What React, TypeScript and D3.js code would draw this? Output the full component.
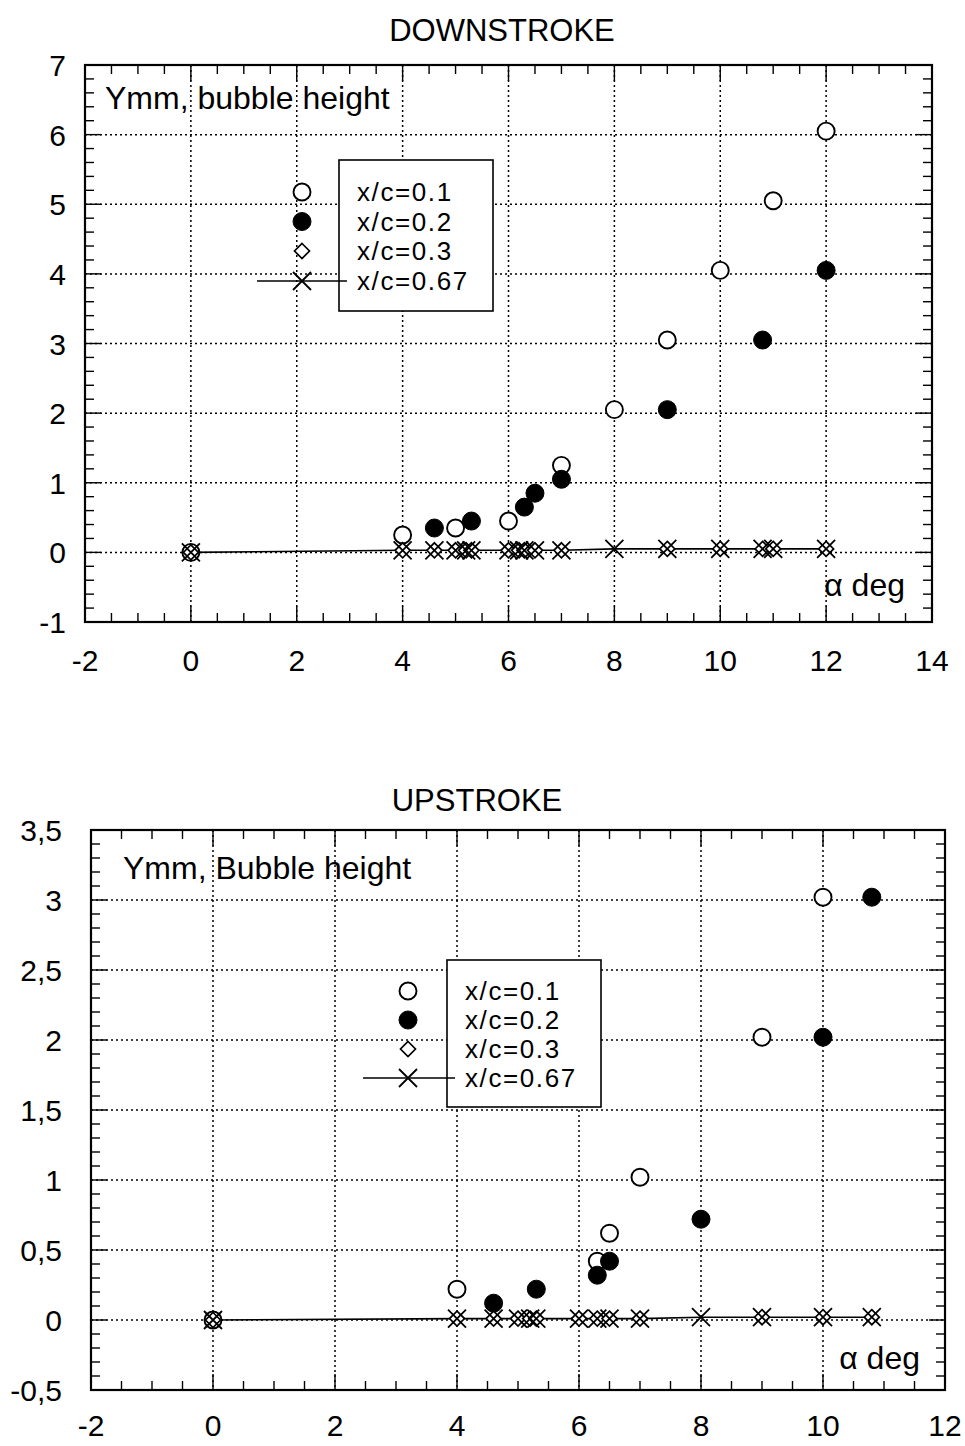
import React from "react";
import * as d3 from "d3";

// ---------- DATA ----------
// Downstroke
const downX01 = [0, 4, 5, 6, 7, 8, 9, 10, 11, 12];
const downY01 = [0, 0.25, 0.35, 0.45, 1.25, 2.05, 3.05, 4.05, 5.05, 6.05];
const downX02 = [4.6, 5.3, 6.3, 6.5, 7, 9, 10.8, 12];
const downY02 = [0.35, 0.45, 0.65, 0.85, 1.05, 2.05, 3.05, 4.05];
const downX03 = [0, 4, 4.6, 5, 5.2, 5.3, 6, 6.2, 6.3, 6.5, 7, 9, 10, 10.8, 11, 12];
const downY03 = [0, 0.03, 0.03, 0.03, 0.03, 0.03, 0.03, 0.03, 0.03, 0.03, 0.03, 0.05, 0.05, 0.05, 0.05, 0.05];
const downX067 = [0, 4, 4.6, 5, 5.2, 5.3, 6, 6.2, 6.3, 6.5, 7, 8, 9, 10, 10.8, 11, 12];
const downY067 = [0, 0.03, 0.03, 0.03, 0.03, 0.03, 0.03, 0.03, 0.03, 0.03, 0.03, 0.05, 0.05, 0.05, 0.05, 0.05, 0.05];

// Upstroke
const upX01 = [0, 4, 6.3, 6.5, 7, 9, 10];
const upY01 = [0, 0.22, 0.42, 0.62, 1.02, 2.02, 3.02];
const upX02 = [4.6, 5.3, 6.3, 6.5, 8, 10, 10.8];
const upY02 = [0.12, 0.22, 0.32, 0.42, 0.72, 2.02, 3.02];
const upX03 = [0, 4, 4.6, 5, 5.2, 5.3, 6, 6.3, 6.5, 7, 9, 10, 10.8];
const upY03 = [0, 0.01, 0.01, 0.01, 0.01, 0.01, 0.01, 0.01, 0.01, 0.01, 0.02, 0.02, 0.02];
const upX067 = [0, 4, 4.6, 5, 5.2, 5.3, 6, 6.3, 6.5, 7, 8, 9, 10, 10.8];
const upY067 = [0, 0.01, 0.01, 0.01, 0.01, 0.01, 0.01, 0.01, 0.01, 0.01, 0.02, 0.02, 0.02, 0.02];

const legendLabels = ["x/c=0.1", "x/c=0.2", "x/c=0.3", "x/c=0.67"];
const downXTicks = [-2, 0, 2, 4, 6, 8, 10, 12, 14];
const downYTicks = [-1, 0, 1, 2, 3, 4, 5, 6, 7];
const upXTicks = [-2, 0, 2, 4, 6, 8, 10, 12];
const upYTicks = [-0.5, 0, 0.5, 1, 1.5, 2, 2.5, 3, 3.5];

const FONT = "'Liberation Sans', Arial, Helvetica, sans-serif";

type Pt = [number, number];
const zip = (xs: number[], ys: number[]): Pt[] => xs.map((x, i) => [x, ys[i]]);

function Cross({ x, y, s = 9 }: { x: number; y: number; s?: number }) {
  return (
    <path d={`M${x - s},${y - s}L${x + s},${y + s}M${x - s},${y + s}L${x + s},${y - s}`} stroke="#000" strokeWidth={1.8} fill="none" />
  );
}
function Diamond({ x, y, s = 7.5 }: { x: number; y: number; s?: number }) {
  return <path d={`M${x},${y - s}L${x + s},${y}L${x},${y + s}L${x - s},${y}Z`} stroke="#000" strokeWidth={1.7} fill="#fff" />;
}
function OpenC({ x, y }: { x: number; y: number }) {
  return <circle cx={x} cy={y} r={8.5} fill="#fff" stroke="#000" strokeWidth={1.9} />;
}
function FillC({ x, y }: { x: number; y: number }) {
  return <circle cx={x} cy={y} r={9} fill="#000" stroke="#000" strokeWidth={1} />;
}

interface PanelProps {
  title: string;
  titleX: number;
  titleY: number;
  left: number;
  right: number;
  top: number;
  bottom: number;
  xDomain: [number, number];
  yDomain: [number, number];
  xTicks: number[];
  yTicks: number[];
  xMinor: number;
  yMinor: number;
  yFmt: (v: number) => string;
  yLabGap: number;
  xLabDy: number;
  s01: Pt[];
  s02: Pt[];
  s03: Pt[];
  s067: Pt[];
  yLabel: string;
  yLabelX: number;
  yLabelY: number;
  aX: number;
  aY: number;
  leg: { symX: number; lineX0: number; lineX1: number; boxX: number; boxY: number; boxW: number; boxH: number; textX: number; rowY: number[] };
}

function Panel(p: PanelProps) {
  const x = d3.scaleLinear().domain(p.xDomain).range([p.left, p.right]);
  const y = d3.scaleLinear().domain(p.yDomain).range([p.bottom, p.top]);
  const line = d3
    .line<Pt>()
    .x((d) => x(d[0]))
    .y((d) => y(d[1]));

  const xMinorTicks = d3.range(p.xDomain[0], p.xDomain[1] + 1e-9, p.xMinor);
  const yMinorTicks = d3.range(p.yDomain[0], p.yDomain[1] + 1e-9, p.yMinor);
  const isMajor = (v: number, ticks: number[]) => ticks.some((t) => Math.abs(t - v) < 1e-6);
  const minorLen = 9;
  const majorLen = 16;

  return (
    <g>
      <text x={p.titleX} y={p.titleY} fontFamily={FONT} fontSize={31} textAnchor="middle">
        {p.title}
      </text>
      {/* grid */}
      {p.xTicks.slice(1, -1).map((t) => (
        <line key={"gx" + t} x1={x(t)} x2={x(t)} y1={p.top} y2={p.bottom} stroke="#000" strokeWidth={1.5} strokeDasharray="2,3" />
      ))}
      {p.yTicks.slice(1, -1).map((t) => (
        <line key={"gy" + t} x1={p.left} x2={p.right} y1={y(t)} y2={y(t)} stroke="#000" strokeWidth={1.5} strokeDasharray="2,3" />
      ))}
      {/* ticks */}
      {xMinorTicks.map((t, i) => {
        const L = isMajor(t, p.xTicks) ? majorLen : minorLen;
        return (
          <g key={"tx" + i}>
            <line x1={x(t)} x2={x(t)} y1={p.bottom} y2={p.bottom - L} stroke="#000" strokeWidth={1.4} />
            <line x1={x(t)} x2={x(t)} y1={p.top} y2={p.top + L} stroke="#000" strokeWidth={1.4} />
          </g>
        );
      })}
      {yMinorTicks.map((t, i) => {
        const L = isMajor(t, p.yTicks) ? majorLen : minorLen;
        return (
          <g key={"ty" + i}>
            <line x1={p.left} x2={p.left + L} y1={y(t)} y2={y(t)} stroke="#000" strokeWidth={1.4} />
            <line x1={p.right} x2={p.right - L} y1={y(t)} y2={y(t)} stroke="#000" strokeWidth={1.4} />
          </g>
        );
      })}
      {/* frame */}
      <rect x={p.left} y={p.top} width={p.right - p.left} height={p.bottom - p.top} fill="none" stroke="#000" strokeWidth={2.2} />
      {/* tick labels */}
      {p.xTicks.map((t) => (
        <text key={"lx" + t} x={x(t)} y={p.bottom + p.xLabDy} fontFamily={FONT} fontSize={30} textAnchor="middle">
          {t}
        </text>
      ))}
      {p.yTicks.map((t) => (
        <text key={"ly" + t} x={p.left - p.yLabGap} y={y(t) + 11} fontFamily={FONT} fontSize={30} textAnchor="end">
          {p.yFmt(t)}
        </text>
      ))}
      {/* in-plot labels */}
      <text x={p.yLabelX} y={p.yLabelY} fontFamily={FONT} fontSize={32}>
        {p.yLabel}
      </text>
      <text x={p.aX} y={p.aY} fontFamily={FONT} fontSize={32} textAnchor="end">
        α deg
      </text>
      {/* series */}
      <path d={line(p.s067) || ""} fill="none" stroke="#000" strokeWidth={1.6} />
      {p.s01.map((d, i) => (
        <OpenC key={"o" + i} x={x(d[0])} y={y(d[1])} />
      ))}
      {p.s02.map((d, i) => (
        <FillC key={"f" + i} x={x(d[0])} y={y(d[1])} />
      ))}
      {p.s03.map((d, i) => (
        <Diamond key={"d" + i} x={x(d[0])} y={y(d[1])} />
      ))}
      {p.s067.map((d, i) => (
        <Cross key={"c" + i} x={x(d[0])} y={y(d[1])} />
      ))}
      {/* legend */}
      <rect x={p.leg.boxX} y={p.leg.boxY} width={p.leg.boxW} height={p.leg.boxH} fill="#fff" stroke="#000" strokeWidth={1.6} />
      <OpenC x={p.leg.symX} y={p.leg.rowY[0]} />
      <FillC x={p.leg.symX} y={p.leg.rowY[1]} />
      <Diamond x={p.leg.symX} y={p.leg.rowY[2]} />
      <line x1={p.leg.lineX0} x2={p.leg.lineX1} y1={p.leg.rowY[3]} y2={p.leg.rowY[3]} stroke="#000" strokeWidth={1.6} />
      <Cross x={p.leg.symX} y={p.leg.rowY[3]} />
      {legendLabels.map((l, i) => (
        <text key={l} x={p.leg.textX} y={p.leg.rowY[i] + 9} fontFamily={FONT} fontSize={26} letterSpacing={1.6}>
          {l}
        </text>
      ))}
    </g>
  );
}

export default function App() {
  const commaFmt = (v: number) => String(v).replace(".", ",");
  return (
    <svg width={965} height={1446} style={{ position: "absolute", left: 0, top: 0, background: "#fff" }}>
      <rect x={0} y={0} width={965} height={1446} fill="#fff" />
      <Panel
        title="DOWNSTROKE"
        titleX={502}
        titleY={41}
        left={85}
        right={932}
        top={65}
        bottom={622}
        xDomain={[-2, 14]}
        yDomain={[-1, 7]}
        xTicks={downXTicks}
        yTicks={downYTicks}
        xMinor={0.5}
        yMinor={0.2}
        yFmt={(v) => String(v)}
        yLabGap={19}
        xLabDy={49}
        s01={zip(downX01, downY01)}
        s02={zip(downX02, downY02)}
        s03={zip(downX03, downY03)}
        s067={zip(downX067, downY067)}
        yLabel="Ymm, bubble height"
        yLabelX={105}
        yLabelY={109}
        aX={905}
        aY={596}
        leg={{ symX: 302, lineX0: 257, lineX1: 347, boxX: 339, boxY: 160, boxW: 154, boxH: 151, textX: 357, rowY: [192, 221.5, 251, 281] }}
      />
      <Panel
        title="UPSTROKE"
        titleX={477}
        titleY={811}
        left={91}
        right={945}
        top={830}
        bottom={1390}
        xDomain={[-2, 12]}
        yDomain={[-0.5, 3.5]}
        xTicks={upXTicks}
        yTicks={upYTicks}
        xMinor={0.5}
        yMinor={0.1}
        yFmt={commaFmt}
        yLabGap={29}
        xLabDy={46}
        s01={zip(upX01, upY01)}
        s02={zip(upX02, upY02)}
        s03={zip(upX03, upY03)}
        s067={zip(upX067, upY067)}
        yLabel="Ymm, Bubble height"
        yLabelX={123}
        yLabelY={879}
        aX={920}
        aY={1369}
        leg={{ symX: 408, lineX0: 363, lineX1: 455, boxX: 447, boxY: 960, boxW: 154, boxH: 147, textX: 465, rowY: [991, 1020, 1049, 1078] }}
      />
    </svg>
  );
}
